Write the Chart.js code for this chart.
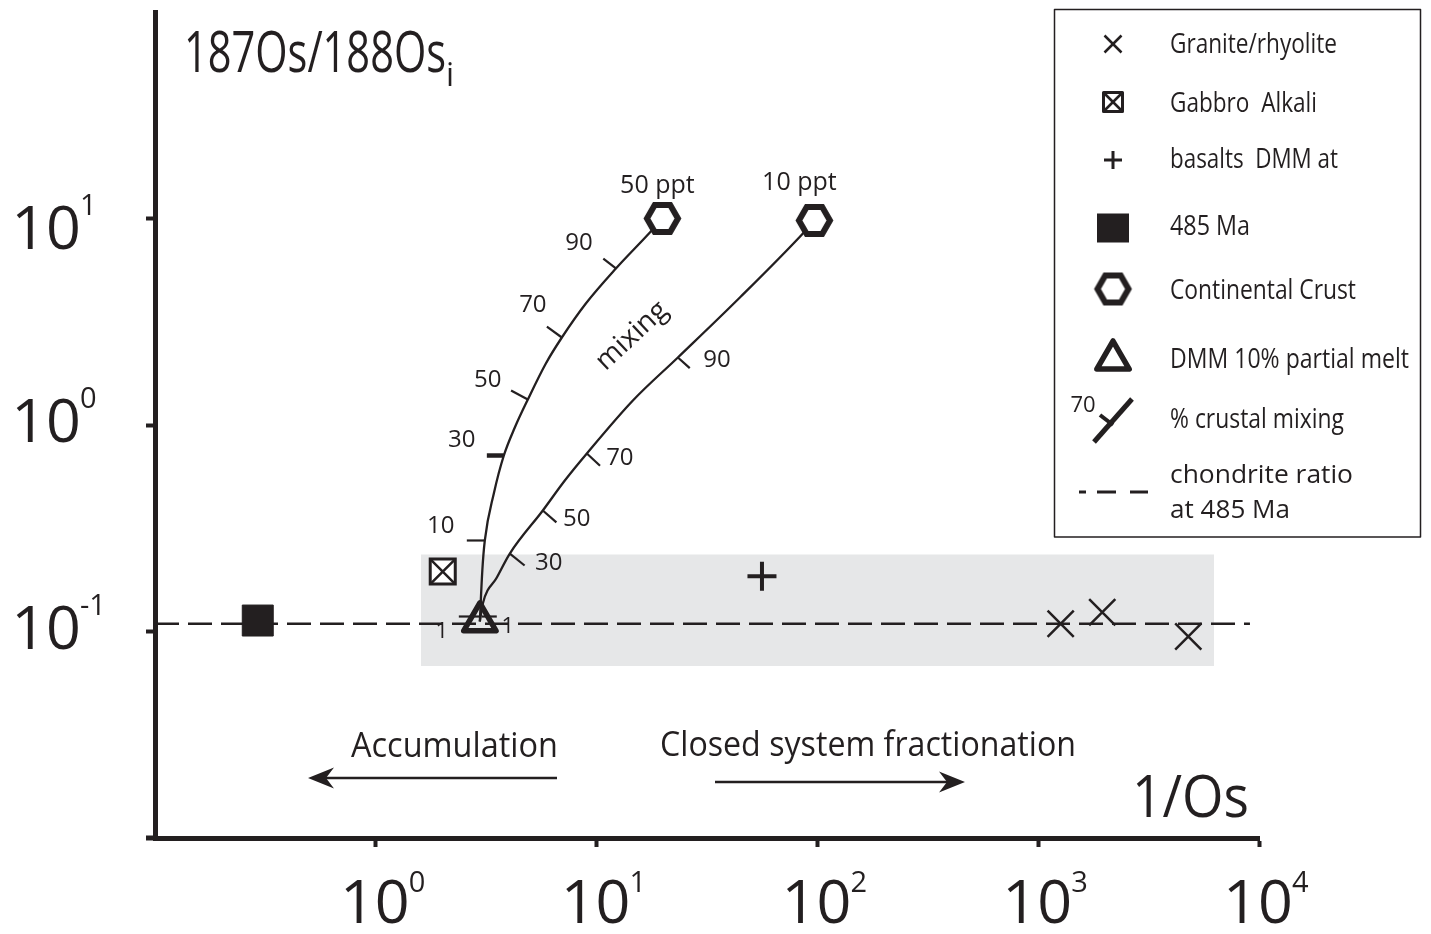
<!DOCTYPE html>
<html>
<head>
<meta charset="utf-8">
<script src="https://cdn.jsdelivr.net/npm/chart.js@4.4.1/dist/chart.umd.min.js"></script>
<style>
html,body{margin:0;padding:0;background:#fff;}
#wrap{width:1431px;height:934px;position:relative;}
</style>
</head>
<body>
<div id="wrap"><canvas id="c"></canvas></div>
<script>
// ---------------- data ----------------
const xTickValues = [1, 10, 100, 1000, 10000];
const yTickValues = [0.1, 1, 10];

const graniteX = [1264, 1950, 4783];
const graniteY = [0.109, 0.124, 0.0946];
const gabbroX = [2.01];
const gabbroY = [0.195];
const basaltX = [56.1];
const basaltY = [0.185];
const ma485X = [0.292];
const ma485Y = [0.113];
const dmmX = [2.96];
const dmmY = [0.1118];
const crustX = [19.86, 96.9];
const crustY = [10.0, 9.78];
const crustLabels = ['50 ppt', '10 ppt'];

const chondriteX = [0.1, 9100];
const chondriteY = [0.109, 0.109];

const bandX = [1.6, 6255];
const bandTop = [0.236, 0.236];
const bandBottom = 0.068;

const mix50X = [2.959, 3.037, 3.117, 3.424, 3.801, 4.262, 4.882, 5.891, 6.960, 8.940, 12.23, 17.43, 19.86];
const mix50Y = [0.1118, 0.1974, 0.2759, 0.4660, 0.7116, 0.9725, 1.329, 1.986, 2.653, 3.877, 5.727, 8.555, 10.0];
const mix10X = [2.959, 3.053, 3.533, 4.046, 5.707, 7.18, 9.034, 14.60, 23.34, 44.56, 85.98, 96.9];
const mix10Y = [0.1118, 0.1367, 0.1826, 0.2385, 0.3855, 0.5385, 0.7278, 1.314, 2.123, 4.144, 8.463, 9.78];

const mix50TickPct = [1, 10, 30, 50, 70, 90];
const mix50TickX = [2.99, 3.117, 3.801, 4.882, 6.960, 12.23];
const mix50TickY = [0.1182, 0.2759, 0.7116, 1.329, 2.653, 5.727];
const mix10TickPct = [1, 30, 50, 70, 90];
const mix10TickX = [3.02, 4.046, 5.707, 9.034, 23.34];
const mix10TickY = [0.1182, 0.2385, 0.3855, 0.7278, 2.123];

const legendLabels = ['Granite/rhyolite', 'Gabbro  Alkali', 'basalts  DMM at', '485 Ma',
  'Continental Crust', 'DMM 10% partial melt', '% crustal mixing', 'chondrite ratio', 'at 485 Ma'];

// ---------------- styles ----------------
const INK = '#231f20';
const BAND = '#e6e7e8';
const FONT = '"Open Sans", "Noto Sans", sans-serif';

const mix50TickStyle = [
  {ang: 180, len: 22, lw: 2.2, dx: -39, dy: 15, fs: 22},
  {ang: 180, len: 18, lw: 2.2, dx: -44, dy: -14, fs: 24},
  {ang: 180, len: 17, lw: 4.5, dx: -42, dy: -15, fs: 24},
  {ang: 208, len: 19, lw: 2.2, dx: -40, dy: -19, fs: 24},
  {ang: 216, len: 18.5, lw: 2.2, dx: -29, dy: -32, fs: 24},
  {ang: 218, len: 16, lw: 2.2, dx: -37, dy: -25, fs: 24}
];
const mix10TickStyle = [
  {ang: 0, len: 15, lw: 2.2, dx: 26, dy: 10, fs: 22},
  {ang: 39, len: 19, lw: 2.2, dx: 39, dy: 10, fs: 24},
  {ang: 41, len: 18, lw: 2.2, dx: 34, dy: 9, fs: 24},
  {ang: 43, len: 18, lw: 2.2, dx: 33, dy: 5, fs: 24},
  {ang: 42, len: 16, lw: 2.2, dx: 39, dy: 3, fs: 24}
];
const yLabelShift = [0, 0, 13];

function hexImage(R, lw) {
  const c = document.createElement('canvas');
  const w = Math.ceil(2 * R + lw + 4), h = Math.ceil(Math.sqrt(3) * R + lw + 4);
  c.width = w; c.height = h;
  const g = c.getContext('2d');
  g.translate(w / 2, h / 2);
  g.beginPath();
  for (let i = 0; i < 6; i++) {
    const a = i * Math.PI / 3;
    g.lineTo(R * Math.cos(a), R * Math.sin(a));
  }
  g.closePath();
  g.fillStyle = '#fff';
  g.fill();
  g.lineWidth = lw;
  g.strokeStyle = INK;
  g.lineJoin = 'miter';
  g.stroke();
  return c;
}
const HEX = hexImage(15.5, 6);

const pts = (xs, ys) => xs.map((x, i) => ({x: x, y: ys[i]}));

function drawText(ctx, s, x, y, o) {
  o = o || {};
  const size = o.size || 24;
  ctx.save();
  ctx.font = (o.weight || 'normal') + ' ' + size + 'px ' + (o.family || FONT);
  ctx.fillStyle = o.color || INK;
  ctx.textBaseline = o.baseline || 'alphabetic';
  const w = ctx.measureText(s).width;
  const sx = o.width ? o.width / w : (o.scale || 1);
  ctx.translate(x, y);
  if (o.rotate) ctx.rotate(o.rotate * Math.PI / 180);
  ctx.scale(sx, 1);
  const align = o.align || 'left';
  const ax = align === 'left' ? 0 : (align === 'center' ? -w / 2 : -w);
  ctx.fillText(s, ax, 0);
  ctx.restore();
}

function drawArrow(ctx, x1, x2, y) {
  const d = x2 > x1 ? 1 : -1;
  ctx.save();
  ctx.strokeStyle = INK; ctx.fillStyle = INK; ctx.lineWidth = 2.5;
  ctx.beginPath(); ctx.moveTo(x1, y); ctx.lineTo(x2 - d * 12, y); ctx.stroke();
  ctx.beginPath();
  ctx.moveTo(x2, y);
  ctx.lineTo(x2 - d * 26, y - 10.5);
  ctx.lineTo(x2 - d * 18, y);
  ctx.lineTo(x2 - d * 26, y + 10.5);
  ctx.closePath(); ctx.fill();
  ctx.restore();
}

function drawCurveTicks(ctx, xs, ys, tx, ty, pct, styles) {
  tx.forEach((v, i) => {
    const st = styles[i];
    const px = xs.getPixelForValue(v), py = ys.getPixelForValue(ty[i]);
    const a = st.ang * Math.PI / 180;
    ctx.save();
    ctx.strokeStyle = INK; ctx.lineWidth = st.lw; ctx.lineCap = 'butt';
    ctx.beginPath(); ctx.moveTo(px, py); ctx.lineTo(px + Math.cos(a) * st.len, py + Math.sin(a) * st.len); ctx.stroke();
    ctx.restore();
    drawText(ctx, String(pct[i]), px + st.dx, py + st.dy, {size: st.fs, align: 'center', baseline: 'middle'});
  });
}

function line(ctx, x1, y1, x2, y2, lw) {
  ctx.beginPath(); ctx.lineWidth = lw; ctx.moveTo(x1, y1); ctx.lineTo(x2, y2); ctx.stroke();
}

const annotations = {
  id: 'annotations',
  beforeDatasetDraw(chart, args) {
    chart.ctx.lineJoin = args.meta.label === 'DMM 10% partial melt' ? 'round' : 'miter';
  },
  afterDatasetsDraw(chart) {
    const ctx = chart.ctx, xs = chart.scales.x, ys = chart.scales.y;
    drawCurveTicks(ctx, xs, ys, mix50TickX, mix50TickY, mix50TickPct, mix50TickStyle);
    drawCurveTicks(ctx, xs, ys, mix10TickX, mix10TickY, mix10TickPct, mix10TickStyle);
    drawText(ctx, crustLabels[0], xs.getPixelForValue(crustX[0]) - 5, ys.getPixelForValue(crustY[0]) - 26, {size: 25, align: 'center'});
    drawText(ctx, crustLabels[1], xs.getPixelForValue(crustX[1]) - 15, ys.getPixelForValue(crustY[1]) - 30, {size: 25, align: 'center'});
    drawText(ctx, 'mixing', 632, 336, {size: 28, align: 'center', baseline: 'middle', rotate: -43});
  },
  afterDraw(chart) {
    const ctx = chart.ctx, xs = chart.scales.x, ys = chart.scales.y;
    xTickValues.forEach(v => {
      const px = xs.getPixelForValue(v);
      const e = Math.round(Math.log10(v));
      drawText(ctx, '10', px - 1, 923, {size: 61, align: 'center'});
      drawText(ctx, String(e), px + 33, 892, {size: 29});
    });
    yTickValues.forEach((v, i) => {
      const py = ys.getPixelForValue(v);
      const e = Math.round(Math.log10(v));
      const b = py + 17 + yLabelShift[i];
      drawText(ctx, '10', 81, b, {size: 61, align: 'right'});
      drawText(ctx, String(e), 80, b - 34, {size: 29});
    });
    drawText(ctx, '187Os/188Os', 184, 72, {size: 56, width: 262});
    drawText(ctx, 'i', 446, 86, {size: 32});
    drawText(ctx, '1/Os', 1132, 817, {size: 58, width: 117});
    drawText(ctx, 'Accumulation', 351, 757, {size: 35, width: 207});
    drawText(ctx, 'Closed system fractionation', 660, 756, {size: 35, width: 416});
    drawArrow(ctx, 557, 308, 778);
    drawArrow(ctx, 715, 965, 782);
    // short overhang of the x axis to the left of the y axis
    ctx.save(); ctx.strokeStyle = INK; line(ctx, 146, 838, 156, 838, 5); ctx.restore();

    // ---------- legend ----------
    ctx.save();
    ctx.fillStyle = '#fff';
    ctx.fillRect(1054.5, 9.5, 366, 527.5);
    ctx.strokeStyle = INK; ctx.lineWidth = 1.5;
    ctx.strokeRect(1054.5, 9.5, 366, 527.5);
    ctx.strokeStyle = INK; ctx.fillStyle = INK; ctx.lineCap = 'butt';
    const cx = 1113;
    line(ctx, cx - 8.5, 44 - 8.5, cx + 8.5, 44 + 8.5, 2.5);
    line(ctx, cx - 8.5, 44 + 8.5, cx + 8.5, 44 - 8.5, 2.5);
    ctx.lineWidth = 3;
    ctx.strokeRect(cx - 9.5, 102 - 9.5, 19, 19);
    line(ctx, cx - 9.5, 102 - 9.5, cx + 9.5, 102 + 9.5, 2.5);
    line(ctx, cx - 9.5, 102 + 9.5, cx + 9.5, 102 - 9.5, 2.5);
    line(ctx, cx - 9, 160, cx + 9, 160, 3);
    line(ctx, cx, 151, cx, 169, 3);
    ctx.fillRect(cx - 16, 213.5, 32, 29);
    ctx.drawImage(HEX, cx - HEX.width / 2, 289 - HEX.height / 2);
    ctx.lineWidth = 5.5; ctx.lineJoin = 'round';
    const r = 18.7, ty = 359.7;
    ctx.beginPath();
    ctx.moveTo(cx, ty - r);
    ctx.lineTo(cx + Math.sin(2 * Math.PI / 3) * r, ty + r / 2);
    ctx.lineTo(cx - Math.sin(2 * Math.PI / 3) * r, ty + r / 2);
    ctx.closePath(); ctx.stroke();
    ctx.lineJoin = 'miter';
    line(ctx, 1094, 442, 1132, 399, 5);
    line(ctx, 1100, 415, 1113, 425, 4);
    ctx.restore();
    drawText(ctx, '70', 1083, 406, {size: 22, align: 'center', baseline: 'middle'});
    ctx.save();
    ctx.strokeStyle = INK;
    line(ctx, 1079, 492, 1086, 492, 3);
    line(ctx, 1097, 492, 1116, 492, 3);
    line(ctx, 1130, 492, 1148, 492, 3);
    ctx.restore();
    const lb = [53, 112, 168, 235, 299, 368, 428, 483, 518];
    const lw = [165, 145, 166, 78, 184, 237, 172, 181, 118];
    const ls = [28, 28, 28, 28, 28, 28, 28, 26, 26];
    legendLabels.forEach((s, i) => drawText(ctx, s, 1170, lb[i], {size: ls[i], width: lw[i] + 2}));
  }
};

const axisCommon = {
  type: 'logarithmic',
  ticks: {display: false},
  grid: {display: true, drawOnChartArea: false, drawTicks: true, tickLength: 9, tickWidth: 4, tickColor: INK},
  border: {display: true, width: 5, color: INK}
};

new Chart(document.getElementById('c'), {
  type: 'line',
  data: {
    datasets: [
      {label: 'band', data: pts(bandX, bandTop), fill: {value: bandBottom}, backgroundColor: BAND,
       borderWidth: 0, pointRadius: 0, order: 100},
      {label: 'chondrite ratio at 485 Ma', data: pts(chondriteX, chondriteY), borderColor: INK, borderWidth: 2.6,
       borderDash: [24, 9], pointRadius: 0, fill: false, order: 90},
      {label: 'mixing 50 ppt', data: pts(mix50X, mix50Y), borderColor: INK, borderWidth: 2.3,
       cubicInterpolationMode: 'monotone', pointRadius: 0, fill: false, order: 80},
      {label: 'mixing 10 ppt', data: pts(mix10X, mix10Y), borderColor: INK, borderWidth: 2.3,
       cubicInterpolationMode: 'monotone', pointRadius: 0, fill: false, order: 80},
      {label: 'Granite/rhyolite', data: pts(graniteX, graniteY), showLine: false, pointStyle: 'crossRot',
       pointRadius: 18.5, pointBorderWidth: 2.5, pointBorderColor: INK, order: 5},
      {label: 'Gabbro Alkali box', data: pts(gabbroX, gabbroY), showLine: false, pointStyle: 'rect',
       pointRadius: 17.7, pointBorderWidth: 3, pointBorderColor: INK, pointBackgroundColor: '#fff', order: 6},
      {label: 'Gabbro Alkali', data: pts(gabbroX, gabbroY), showLine: false, pointStyle: 'crossRot',
       pointRadius: 17.7, pointBorderWidth: 2.5, pointBorderColor: INK, order: 4},
      {label: 'basalts DMM at', data: pts(basaltX, basaltY), showLine: false, pointStyle: 'cross',
       pointRadius: 14.5, pointBorderWidth: 4, pointBorderColor: INK, order: 4},
      {label: '485 Ma', data: pts(ma485X, ma485Y), showLine: false, pointStyle: 'rect',
       pointRadius: 21.9, pointBorderWidth: 1, pointBorderColor: INK, pointBackgroundColor: INK, order: 4},
      {label: 'DMM 10% partial melt', data: pts(dmmX, dmmY), showLine: false, pointStyle: 'triangle',
       pointRadius: 18.7, pointBorderWidth: 5.5, pointBorderColor: INK, pointBackgroundColor: 'rgba(0,0,0,0)', order: 3},
      {label: 'Continental Crust', data: pts(crustX, crustY), showLine: false, pointStyle: HEX,
       pointRadius: 18, order: 3}
    ]
  },
  options: {
    responsive: true,
    maintainAspectRatio: false,
    animation: false,
    events: [],
    layout: {autoPadding: false, padding: {left: 0, right: 172, top: 12, bottom: 0}},
    plugins: {legend: {display: false}, tooltip: {enabled: false}},
    scales: {
      x: Object.assign({}, axisCommon, {
        position: 'bottom', min: 0.1, max: 10000,
        afterBuildTicks: s => { s.ticks = xTickValues.map(v => ({value: v})); },
        afterFit: s => { s.height = 96; }
      }),
      y: Object.assign({}, axisCommon, {
        position: 'left', min: 0.01, max: 100,
        afterBuildTicks: s => { s.ticks = yTickValues.map(v => ({value: v})); },
        afterFit: s => { s.width = 155; }
      })
    }
  },
  plugins: [annotations]
});
</script>
</body>
</html>
